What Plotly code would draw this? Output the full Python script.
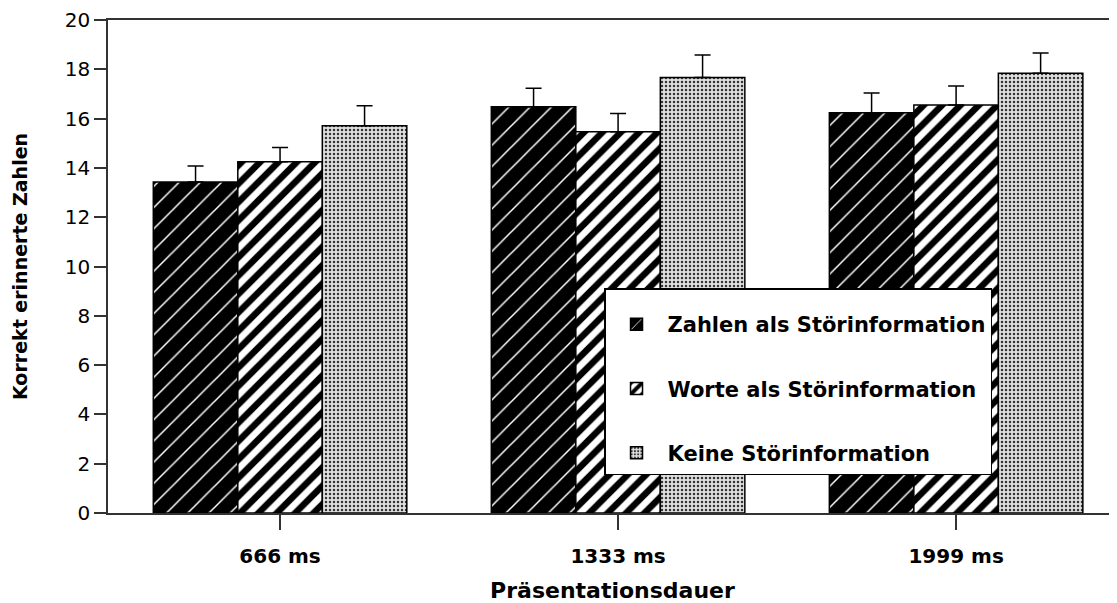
import plotly.graph_objects as go

categories = ["666 ms", "1333 ms", "1999 ms"]
series_names = ["Zahlen als Störinformation", "Worte als Störinformation", "Keine Störinformation"]
zahlen = [13.43, 16.48, 16.24]
zahlen_se = [0.65, 0.75, 0.80]
worte = [14.25, 15.47, 16.55]
worte_se = [0.58, 0.74, 0.77]
keine = [15.71, 17.67, 17.84]
keine_se = [0.81, 0.91, 0.82]
y_ticks = [0, 2, 4, 6, 8, 10, 12, 14, 16, 18, 20]

patterns = [
    dict(shape="/", bgcolor="black", fgcolor="white", size=15, solidity=0.1, fillmode="replace"),
    dict(shape="/", bgcolor="white", fgcolor="black", size=13, solidity=0.5, fillmode="replace"),
    dict(shape=".", bgcolor="#e0e0e0", fgcolor="#333333", size=4, solidity=0.3, fillmode="replace"),
]

fig = go.Figure()
for i, (name, vals, se) in enumerate(zip(series_names, [zahlen, worte, keine], [zahlen_se, worte_se, keine_se])):
    fig.add_trace(go.Bar(
        x=categories, y=vals, name=name, legendgroup=f"g{i}",
        marker=dict(color=patterns[i]["bgcolor"], pattern=patterns[i], line=dict(color="black", width=1.5)),
        error_y=dict(type="data", array=se, arrayminus=[0] * len(se), symmetric=False,
                     color="black", thickness=1.5, width=8),
    ))

# page body has an 8px margin, so the figure is 8px smaller on each side
fig.update_layout(
    width=1109, height=595,
    margin=dict(l=100, r=0, t=12, b=90),
    paper_bgcolor="white", plot_bgcolor="white",
    barmode="group", bargap=0.25, bargroupgap=0,
    font=dict(family="DejaVu Sans", color="black"),
    legend=dict(
        x=0.4916, y=0.456, xanchor="left", yanchor="top",
        bordercolor="black", borderwidth=1.5, bgcolor="white",
        font=dict(family="DejaVu Sans", size=21, weight="bold", color="black"),
        tracegroupgap=34, traceorder="grouped", itemwidth=52,
        title=dict(text="&nbsp;", font=dict(size=11)),
    ),
    showlegend=True,
)
fig.update_xaxes(
    type="category", range=[-0.509, 2.476],
    showline=True, linecolor="#333333", linewidth=1.5, mirror=True,
    ticks="outside", ticklen=15, tickwidth=1.5, tickcolor="#333333",
    tickfont=dict(family="DejaVu Sans", size=20, weight="bold"),
    ticklabelstandoff=9,
    title=dict(text="Präsentationsdauer", font=dict(family="DejaVu Sans", size=22, weight="bold"), standoff=21),
    showgrid=False, automargin=False,
)
fig.update_yaxes(
    range=[0, 20], tickvals=y_ticks,
    showline=True, linecolor="#333333", linewidth=1.5,
    ticks="outside", ticklen=12, tickwidth=1.5, tickcolor="#333333",
    tickfont=dict(family="DejaVu Sans", size=20),
    title=dict(text="Korrekt erinnerte Zahlen", font=dict(family="DejaVu Sans", size=19, weight="bold"), standoff=32),
    showgrid=False, zeroline=False, automargin=False,
)

fig.write_html("out.html")
